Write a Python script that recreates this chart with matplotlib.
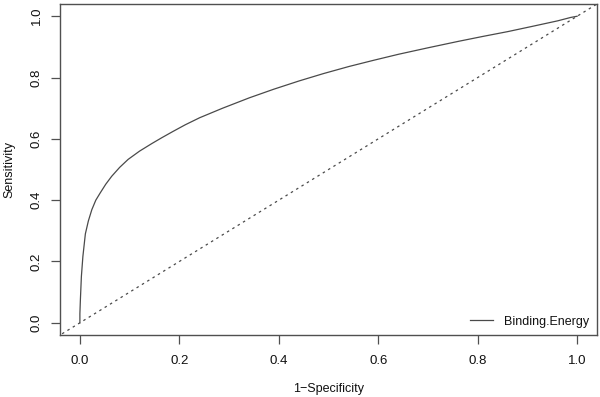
import matplotlib
matplotlib.use("Agg")
import matplotlib.pyplot as plt

plt.rcParams['font.family'] = ['Liberation Sans', 'DejaVu Sans']

# ROC curve
fpr = [0.0, 0.0, 0.001, 0.003, 0.006, 0.011, 0.017, 0.024, 0.032, 0.041, 0.052,
       0.064, 0.080, 0.097, 0.120, 0.145, 0.165, 0.187, 0.212, 0.241, 0.287,
       0.341, 0.390, 0.441, 0.490, 0.541, 0.590, 0.641, 0.700, 0.761, 0.810,
       0.861, 0.910, 0.961, 0.987, 1.0]
sens = [0.0, 0.03, 0.075, 0.151, 0.216, 0.290, 0.332, 0.369, 0.400, 0.424, 0.452,
        0.478, 0.507, 0.533, 0.560, 0.585, 0.604, 0.624, 0.646, 0.669, 0.700,
        0.734, 0.762, 0.789, 0.813, 0.836, 0.856, 0.876, 0.897, 0.918, 0.934,
        0.950, 0.967, 0.985, 0.996, 1.0]
ticks = [0.0, 0.2, 0.4, 0.6, 0.8, 1.0]
tick_labels = ["0.0", "0.2", "0.4", "0.6", "0.8", "1.0"]
series_name = "Binding.Energy"

fig = plt.figure(figsize=(6.0, 3.97), dpi=100)
ax = fig.add_axes([0.1, 0.156, 0.895, 0.834])

ax.plot(fpr, sens, color='#4a4a4a', lw=0.9, label=series_name,
        solid_joinstyle='round')
ax.plot([-0.1, 1.1], [-0.1, 1.1], color='#4a4a4a', lw=0.9, linestyle=(0, (2, 3)))

ax.set_xlim(-0.04, 1.04)
ax.set_ylim(-0.04, 1.04)
ax.set_xticks(ticks)
ax.set_xticklabels(tick_labels)
ax.set_yticks(ticks)
ax.set_yticklabels(tick_labels, rotation=90, va='center')

for s in ax.spines.values():
    s.set_color('#505050')
    s.set_linewidth(1.0)
ax.tick_params(axis='both', direction='out', length=6.5, width=0.9,
               color='#505050', labelsize=9.5, labelcolor='#111111')
ax.tick_params(axis='x', pad=8)
ax.tick_params(axis='y', pad=6)

ax.set_xlabel("1\u2212Specificity", fontsize=9, color='#111111')
ax.set_ylabel("Sensitivity", fontsize=9, color='#111111')
ax.xaxis.set_label_coords(0.5, -0.163)
ax.yaxis.set_label_coords(-0.095, 0.5)
ax.xaxis.label.set_va('center')
ax.yaxis.label.set_va('center')

leg = ax.legend(loc='lower right', frameon=False, fontsize=9, handlelength=1.85,
                handletextpad=0.9, borderaxespad=0.2)
for t in leg.get_texts():
    t.set_color('#111111')

fig.savefig("out.png", dpi=100)
